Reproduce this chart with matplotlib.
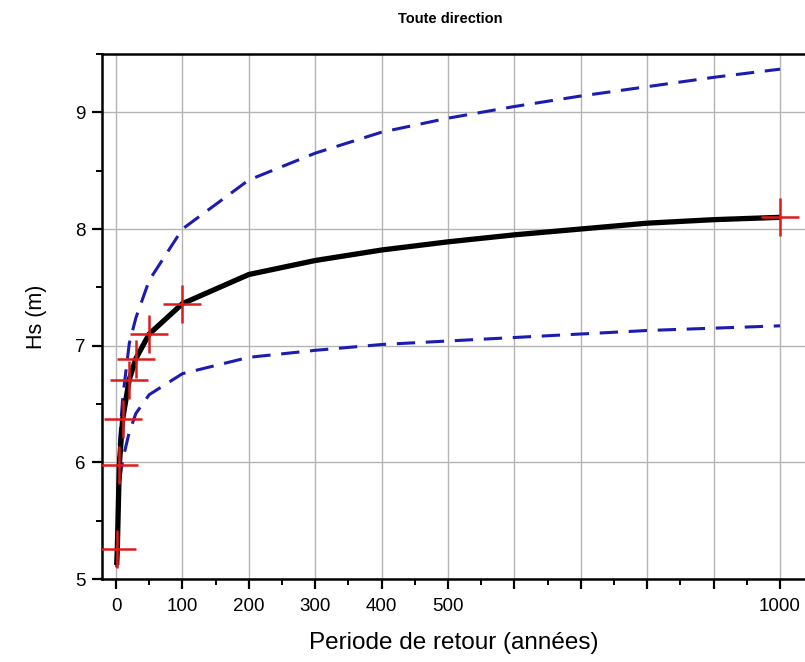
import matplotlib
matplotlib.use("Agg")
import matplotlib.pyplot as plt
from matplotlib.ticker import MultipleLocator, FixedLocator, FixedFormatter

plt.rcParams['font.family'] = ['Liberation Sans', 'DejaVu Sans']

# Return periods (years) where the curves are evaluated
periods = [1, 2, 5, 10, 20, 30, 50, 100, 200, 300, 400, 500, 600, 700, 800, 900, 1000]
hs_central = [5.12, 5.26, 5.98, 6.37, 6.71, 6.89, 7.10, 7.36, 7.61, 7.73, 7.82, 7.89, 7.95, 8.00, 8.05, 8.08, 8.10]
hs_upper = [5.15, 5.36, 6.15, 6.55, 7.02, 7.24, 7.56, 8.00, 8.42, 8.65, 8.83, 8.95, 9.05, 9.14, 9.22, 9.30, 9.37]
hs_lower = [5.10, 5.20, 5.82, 6.02, 6.26, 6.42, 6.58, 6.76, 6.90, 6.96, 7.01, 7.04, 7.07, 7.10, 7.13, 7.15, 7.17]

# Observed / fitted points (red crosses)
pt_periods = [2, 5, 10, 20, 30, 50, 100, 1000]
pt_hs = [5.26, 5.98, 6.37, 6.71, 6.89, 7.10, 7.36, 8.10]

x_major = [0, 100, 200, 300, 400, 500, 600, 700, 800, 900, 1000]
x_labels = ['0', '100', '200', '300', '400', '500', '', '', '', '', '1000']

title = "Toute direction"
xlabel = "Periode de retour (années)"
ylabel = "Hs (m)"

W, H = 805, 662
fig = plt.figure(figsize=(W / 100, H / 100), dpi=100)
ax = fig.add_axes([102 / W, 1 - 579 / H, (W - 102) / W, (579 - 54) / H])

ax.grid(True, which='major', color='#b4b4b4', linewidth=1.0, zorder=0)
ax.set_axisbelow(True)

blue = '#1c1cb0'
ax.plot(periods, hs_upper, color=blue, lw=2.2, dashes=(6, 3.5), zorder=3)
ax.plot(periods, hs_lower, color=blue, lw=2.2, dashes=(6, 3.5), zorder=3)
ax.plot(periods, hs_central, color='black', lw=3.8, zorder=4, solid_capstyle='butt')
ax.plot(pt_periods, pt_hs, linestyle='none', marker='+', markersize=28,
        markeredgewidth=1.8, color='#dc1c1c', zorder=5)

ax.set_xlim(-21.1, 1037.6)
ax.set_ylim(5, 9.5)

ax.xaxis.set_major_locator(FixedLocator(x_major))
ax.xaxis.set_major_formatter(FixedFormatter(x_labels))
ax.xaxis.set_minor_locator(MultipleLocator(50))
ax.yaxis.set_major_locator(MultipleLocator(1))
ax.yaxis.set_minor_locator(MultipleLocator(0.5))

ax.tick_params(which='major', direction='out', length=7, width=1.6, labelsize=13.5,
               pad=5, colors='black')
ax.tick_params(axis='x', which='major', pad=7)
ax.tick_params(which='minor', direction='out', length=4, width=1.4)
ax.tick_params(top=False, right=False, which='both')

for s in ['left', 'bottom', 'top']:
    ax.spines[s].set_linewidth(1.8)
ax.spines['right'].set_visible(False)

ax.set_xlabel(xlabel, fontsize=17.5, labelpad=12)
ax.set_ylabel(ylabel, fontsize=15.5, labelpad=20)
fig.text(450 / W, 1 - 19 / H, title, fontsize=10.5, fontweight='bold',
         ha='center', va='center')

fig.savefig('out.png', dpi=100)
